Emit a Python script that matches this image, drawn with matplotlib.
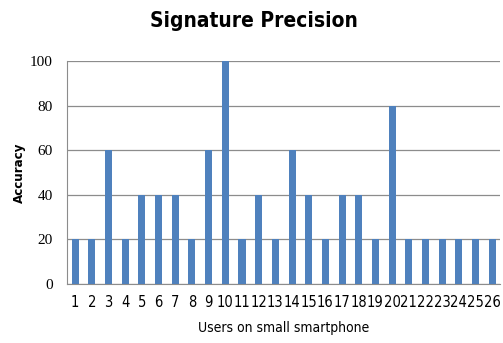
import matplotlib
matplotlib.use("Agg")
import matplotlib.pyplot as plt
import numpy as np

users = [str(i) for i in range(1, 27)]
accuracy = [20, 20, 60, 20, 40, 40, 40, 20, 60, 100, 20, 40, 20,
            60, 40, 20, 40, 40, 20, 80, 20, 20, 20, 20, 20, 20]
yticks = [0, 20, 40, 60, 80, 100]

fig = plt.figure(figsize=(5.03, 3.43), dpi=100)
ax = fig.add_axes([0.133, 0.172, 0.862, 0.650])

x = np.arange(len(users))
ax.bar(x, accuracy, width=0.42, color="#4F81BD", zorder=3)

ax.set_xlim(-0.5, len(users) - 0.5)
ax.set_ylim(0, 100)
ax.set_yticks(yticks)
ax.set_xticks(x)
ax.set_xticklabels(users, family="DejaVu Sans", stretch="condensed", fontsize=10.5)
ax.set_yticklabels([str(v) for v in yticks], family="Liberation Serif", fontsize=11)
ax.tick_params(axis="both", length=0)
ax.tick_params(axis="y", pad=10)
ax.tick_params(axis="x", pad=8)

ax.yaxis.grid(True, color="#8c8c8c", linewidth=0.9, zorder=0)
for s in ["top", "right"]:
    ax.spines[s].set_visible(False)
ax.spines["left"].set_color("#8c8c8c")
ax.spines["bottom"].set_color("#8c8c8c")

ax.set_ylabel("Accuracy", fontsize=9.5, fontweight="bold", family="DejaVu Sans",
              stretch="condensed", labelpad=3)
ax.set_xlabel("Users on small smartphone", fontsize=10, family="DejaVu Sans",
              stretch="condensed", labelpad=8)

fig.text(0.505, 0.94, "Signature Precision", ha="center", va="center",
         fontsize=15, fontweight="bold", family="DejaVu Sans", stretch="condensed")

fig.savefig("out.png", dpi=100)
